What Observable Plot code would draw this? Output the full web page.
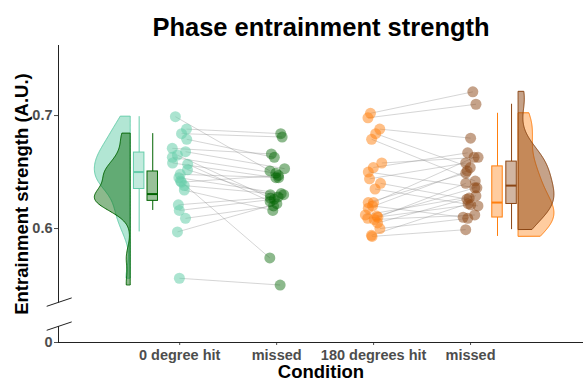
<!DOCTYPE html>
<html>
<head>
<meta charset="utf-8">
<script src="https://cdn.jsdelivr.net/npm/d3@7"></script>
<script src="https://cdn.jsdelivr.net/npm/@observablehq/plot@0.6"></script>
<style>
  html, body { margin: 0; padding: 0; background: #fff; }
</style>
</head>
<body>
<div id="chart"></div>
<script>
// ---- Data ----
const conditions = ["0 degree hit", "missed", "180 degrees hit", "missed"];
const hit0 = [0.699, 0.688, 0.684, 0.679, 0.671, 0.668, 0.665, 0.663, 0.658, 0.657, 0.652,
              0.648, 0.645, 0.642, 0.641, 0.638, 0.634, 0.621, 0.616, 0.609, 0.597, 0.556];
const miss0 = [0.651, 0.684, 0.681, 0.663, 0.666, 0.653, 0.627, 0.649, 0.645, 0.624, 0.630,
               0.645, 0.631, 0.574, 0.647, 0.630, 0.616, 0.628, 0.626, 0.620, 0.622, 0.550];
const hit180 = [0.702, 0.698, 0.688, 0.684, 0.679, 0.658, 0.654, 0.650, 0.644, 0.640, 0.635, 0.623,
                0.623, 0.620, 0.618, 0.612, 0.611, 0.610, 0.609, 0.608, 0.605, 0.600, 0.594, 0.593];
const miss180 = [0.721, 0.710, 0.680, 0.654, 0.642, 0.663, 0.667, 0.636, 0.658, 0.626, 0.620, 0.663,
                 0.649, 0.610, 0.651, 0.629, 0.636, 0.640, 0.621, 0.612, 0.627, 0.609, 0.622, 0.599];
const yTicks = [0, 0.6, 0.7];
const yTickLabels = ["0", "0.6", "0.7"];
const titleText = "Phase entrainment strength";
const xTitle = "Condition";
const yTitle = "Entrainment strength (A.U.)";

// ---- Styling / layout ----
const C_LIGHT = "#66CDAA", C_DARK = "#006400", C_ORANGE = "#FF7F0E", C_BROWN = "#8B4513";
const W = 586, H = 381, ML = 58, MR = 3, MT = 45, MB = 39;
const BREAK_LO_PX = 326, BREAK_HI_PX = 302.5;

// seeded jitter (horizontal placement only)
const rng = d3.randomLcg(7);
const jit = () => (rng() - 0.5) * 0.17;

const groups = [
  {values: hit0,    pos: 1, color: C_LIGHT,  boxX: 0.582, violinEdge: 0.495, dir: -1, dotOp: 0.55, vOp: 0.5},
  {values: miss0,   pos: 2, color: C_DARK,   boxX: 0.722, violinEdge: 0.495, dir: -1, dotOp: 0.45, vOp: 0.45},
  {values: hit180,  pos: 3, color: C_ORANGE, boxX: 4.278, violinEdge: 4.495, dir: 1,  dotOp: 0.5, vOp: 0.4},
  {values: miss180, pos: 4, color: C_BROWN,  boxX: 4.423, violinEdge: 4.495, dir: 1,  dotOp: 0.5, vOp: 0.5}
];
groups.forEach(g => { g.pts = g.values.map(v => ({x: g.pos + jit(), y: v})); });

// pair links
const links = [];
[[0, 1], [2, 3]].forEach(([a, b]) => {
  groups[a].pts.forEach((p, i) => {
    const q = groups[b].pts[i];
    links.push({x1: p.x, y1: p.y, x2: q.x, y2: q.y});
  });
});

// KDE (gaussian, bw.nrd0), trimmed to data range
function bwNrd0(v) {
  const s = d3.sort(v);
  const sd = d3.deviation(s);
  const iqr = d3.quantile(s, 0.75) - d3.quantile(s, 0.25);
  return 0.9 * Math.min(sd, iqr / 1.34) * Math.pow(s.length, -0.2);
}
const VW = 0.37;
groups.forEach(g => {
  const bw = bwNrd0(g.values);
  const [a, b] = d3.extent(g.values);
  const n = 200;
  const dens = d3.range(n + 1).map(i => {
    const y = a + (b - a) * i / n;
    return {y, d: d3.sum(g.values, x => Math.exp(-0.5 * ((y - x) / bw) ** 2))};
  });
  const mx = d3.max(dens, d => d.d);
  g.violin = dens.map(d => ({y: d.y, xa: g.violinEdge, xb: g.violinEdge + g.dir * VW * d.d / mx}));
  // box stats
  const s = d3.sort(g.values);
  const q1 = d3.quantile(s, 0.25), q2 = d3.quantile(s, 0.5), q3 = d3.quantile(s, 0.75);
  const iqr = q3 - q1;
  const lo = d3.min(s.filter(v => v >= q1 - 1.5 * iqr));
  const hi = d3.max(s.filter(v => v <= q3 + 1.5 * iqr));
  g.box = {q1, q2, q3, lo, hi};
});

const BH = 0.054; // half box width (x units)
const boxMarks = groups.flatMap(g => [
  Plot.ruleX([g.box], {x: () => g.boxX, y1: "lo", y2: "q1", stroke: g.color, strokeWidth: 1}),
  Plot.ruleX([g.box], {x: () => g.boxX, y1: "q3", y2: "hi", stroke: g.color, strokeWidth: 1}),
  Plot.rect([g.box], {x1: () => g.boxX - BH, x2: () => g.boxX + BH, y1: "q1", y2: "q3",
    fill: g.color, fillOpacity: 0.4, stroke: g.color, strokeWidth: 1}),
  Plot.ruleY([g.box], {y: "q2", x1: () => g.boxX - BH, x2: () => g.boxX + BH, stroke: g.color, strokeWidth: 2})
]);

const violinMarks = groups.map(g => Plot.areaX(g.violin, {
  y: "y", x1: "xa", x2: "xb", fill: g.color, fillOpacity: g.vOp,
  stroke: g.color, strokeWidth: 1, curve: "linear"
}));

const plot = Plot.plot({
  width: W, height: H,
  marginLeft: ML, marginRight: MR, marginTop: MT, marginBottom: MB,
  style: {fontFamily: "'Liberation Sans', Arial, sans-serif", fontSize: "14.5px", fontWeight: "bold",
          color: "#4d4d4d", background: "white", overflow: "visible"},
  x: {type: "linear", domain: [-0.25, 5.165], ticks: [1, 2, 3, 4],
      tickFormat: i => conditions[i - 1], tickSize: 3, tickPadding: 4, label: null},
  y: {type: "linear", domain: [0, 0.02, 0.5341, 0.762], range: [H - MB, BREAK_LO_PX, BREAK_HI_PX, MT],
      ticks: yTicks, tickFormat: v => yTickLabels[yTicks.indexOf(v)], tickSize: 4, tickPadding: 2, label: null},
  marks: [
    ...violinMarks,
    ...boxMarks,
    Plot.link(links, {x1: "x1", y1: "y1", x2: "x2", y2: "y2", stroke: "#888", strokeOpacity: 0.35, strokeWidth: 1}),
    ...groups.map(g => Plot.dot(g.pts, {x: "x", y: "y", r: 5.5, fill: g.color, fillOpacity: g.dotOp, stroke: "none"})),
    // axis lines
    Plot.ruleY([0], {stroke: "#222", strokeWidth: 1}),
    Plot.ruleX([-0.25], {y1: 0.5341, y2: 0.762, stroke: "#222", strokeWidth: 1}),
    Plot.ruleX([-0.25], {y1: 0, y2: 0.02, stroke: "#222", strokeWidth: 1}),
    // titles
    Plot.text([titleText], {frameAnchor: "top", dy: -28, fontSize: 25.5, fontWeight: "bold", fill: "black"}),
    Plot.text([xTitle], {frameAnchor: "bottom", dy: 35, fontSize: 18.5, fontWeight: "bold", fill: "black"}),
    Plot.text([yTitle], {frameAnchor: "left", dx: -36, rotate: -90, textAnchor: "middle",
      fontSize: 18.5, fontWeight: "bold", fill: "black"})
  ]
});

// axis-break marks on the y axis line
const svg = d3.select(plot.tagName.toLowerCase() === "svg" ? plot : plot.querySelector("svg"));
[BREAK_HI_PX, BREAK_LO_PX + 0.5].forEach(yc => {
  svg.append("line")
    .attr("x1", ML - 11.3).attr("y1", yc + 3.8)
    .attr("x2", ML + 13.7).attr("y2", yc - 4.6)
    .attr("stroke", "#222").attr("stroke-width", 1);
});

document.getElementById("chart").appendChild(plot);
</script>
</body>
</html>
